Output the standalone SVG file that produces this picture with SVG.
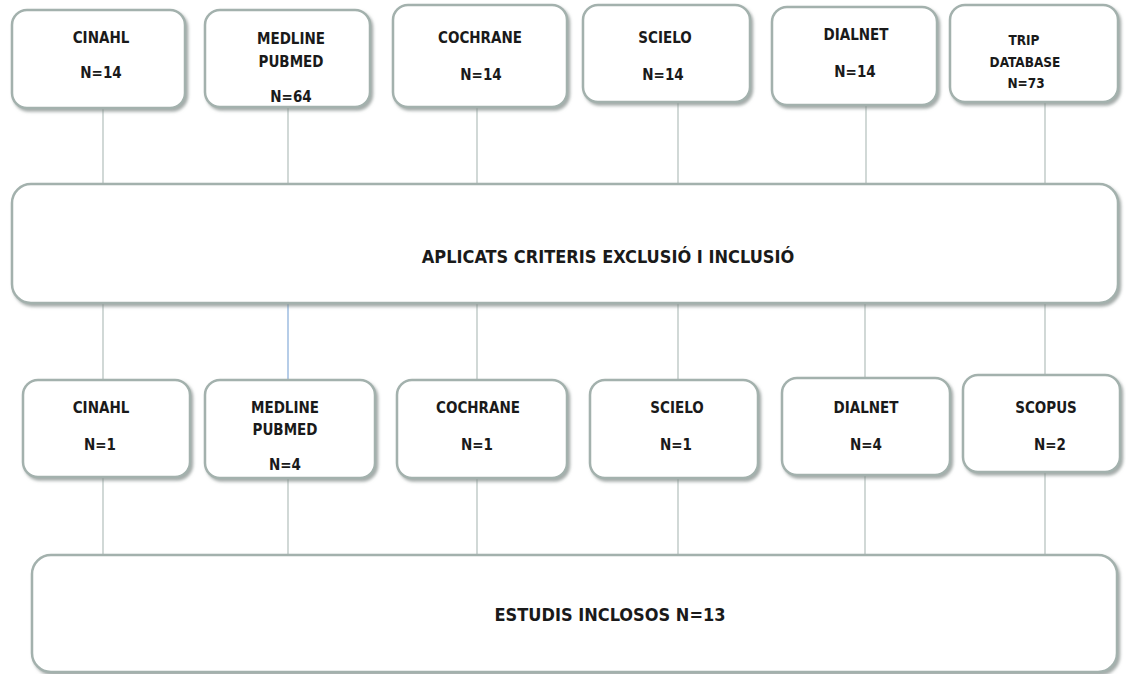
<svg xmlns="http://www.w3.org/2000/svg" width="1126" height="674" viewBox="0 0 1126 674">
<defs>
<filter id="sh" x="-5%" y="-5%" width="115%" height="120%">
<feDropShadow dx="2" dy="2.5" stdDeviation="1.5" flood-color="#7d8885" flood-opacity="0.7"/>
</filter>
<style>
.box{fill:#ffffff;stroke:#a3b1ad;stroke-width:2.5;filter:url(#sh)}
.t{font-family:"DejaVu Sans Condensed","DejaVu Sans","Liberation Sans",sans-serif;font-weight:bold;font-size:15px;fill:#1a1a1a;text-anchor:middle}
.s{font-size:13.5px}
.big{font-size:18px}
.c{stroke:#b9c4c1;stroke-width:1.3;fill:none}
.cb{stroke:#8fb2dc;stroke-width:1.3;fill:none}
</style>
</defs>
<rect width="1126" height="674" fill="#ffffff"/>
<g id="connectors">
<line class="c" x1="103" y1="108" x2="103" y2="184"/>
<line class="c" x1="288" y1="108" x2="288" y2="184"/>
<line class="c" x1="477" y1="107" x2="477" y2="184"/>
<line class="c" x1="678" y1="102" x2="678" y2="184"/>
<line class="c" x1="866" y1="105" x2="866" y2="184"/>
<line class="c" x1="1045" y1="102" x2="1045" y2="184"/>
<line class="c" x1="103" y1="303" x2="103" y2="380"/>
<line class="cb" x1="288" y1="303" x2="288" y2="380"/>
<line class="c" x1="477" y1="303" x2="477" y2="380"/>
<line class="c" x1="678" y1="303" x2="678" y2="380"/>
<line class="c" x1="865" y1="303" x2="865" y2="378"/>
<line class="c" x1="1045" y1="303" x2="1045" y2="375"/>
<line class="c" x1="103" y1="477" x2="103" y2="555"/>
<line class="c" x1="288" y1="478" x2="288" y2="555"/>
<line class="c" x1="477" y1="478" x2="477" y2="555"/>
<line class="c" x1="678" y1="478" x2="678" y2="555"/>
<line class="c" x1="865" y1="475" x2="865" y2="555"/>
<line class="c" x1="1045" y1="472" x2="1045" y2="555"/>
</g>
<g id="top-cinahl">
<rect class="box" x="12" y="10" width="173" height="98" rx="15"/>
<text class="t" x="101" y="43">CINAHL</text>
<text class="t" x="101" y="78">N=14</text>
</g>
<g id="top-medline">
<rect class="box" x="205" y="10" width="165" height="97" rx="15"/>
<text class="t" x="291" y="44">MEDLINE</text>
<text class="t" x="291" y="67">PUBMED</text>
<text class="t" x="291" y="102">N=64</text>
</g>
<g id="top-cochrane">
<rect class="box" x="393" y="5" width="174" height="102" rx="15"/>
<text class="t" x="480" y="43">COCHRANE</text>
<text class="t" x="481" y="80">N=14</text>
</g>
<g id="top-scielo">
<rect class="box" x="583" y="5" width="167" height="97" rx="15"/>
<text class="t" x="665" y="43">SCIELO</text>
<text class="t" x="663" y="80">N=14</text>
</g>
<g id="top-dialnet">
<rect class="box" x="772" y="7" width="165" height="98" rx="15"/>
<text class="t" x="856" y="40">DIALNET</text>
<text class="t" x="855" y="77">N=14</text>
</g>
<g id="top-trip">
<rect class="box" x="950" y="5" width="168" height="97" rx="15"/>
<text class="t s" x="1024" y="45">TRIP</text>
<text class="t s" x="1025" y="67">DATABASE</text>
<text class="t s" x="1026" y="88">N=73</text>
</g>
<g id="criteria">
<rect class="box" x="12" y="184" width="1106" height="119" rx="19"/>
<text class="t big" x="608" y="263">APLICATS CRITERIS EXCLUSIÓ I INCLUSIÓ</text>
</g>
<g id="bot-cinahl">
<rect class="box" x="23" y="380" width="167" height="97" rx="15"/>
<text class="t" x="101" y="413">CINAHL</text>
<text class="t" x="100" y="450">N=1</text>
</g>
<g id="bot-medline">
<rect class="box" x="205" y="380" width="170" height="98" rx="15"/>
<text class="t" x="285" y="413">MEDLINE</text>
<text class="t" x="285" y="435">PUBMED</text>
<text class="t" x="285" y="470">N=4</text>
</g>
<g id="bot-cochrane">
<rect class="box" x="397" y="380" width="170" height="98" rx="15"/>
<text class="t" x="478" y="413">COCHRANE</text>
<text class="t" x="477" y="450">N=1</text>
</g>
<g id="bot-scielo">
<rect class="box" x="590" y="380" width="168" height="98" rx="15"/>
<text class="t" x="677" y="413">SCIELO</text>
<text class="t" x="676" y="450">N=1</text>
</g>
<g id="bot-dialnet">
<rect class="box" x="782" y="378" width="168" height="97" rx="15"/>
<text class="t" x="866" y="413">DIALNET</text>
<text class="t" x="866" y="450">N=4</text>
</g>
<g id="bot-scopus">
<rect class="box" x="963" y="375" width="157" height="97" rx="15"/>
<text class="t" x="1046" y="413">SCOPUS</text>
<text class="t" x="1050" y="450">N=2</text>
</g>
<g id="included">
<rect class="box" x="32" y="555" width="1085" height="117" rx="19"/>
<text class="t big" x="610" y="621">ESTUDIS INCLOSOS N=13</text>
</g>
</svg>
